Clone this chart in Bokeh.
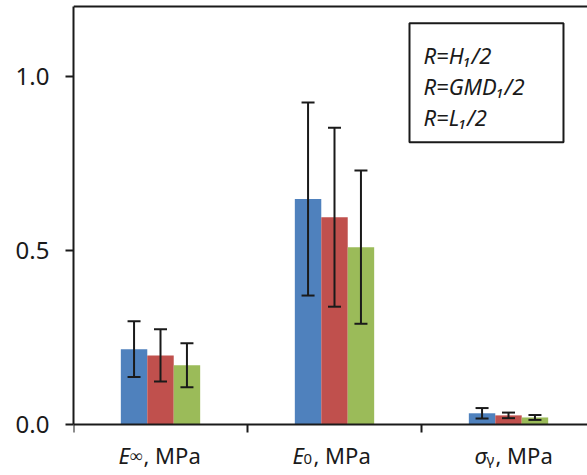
from bokeh.plotting import figure
from bokeh.models import (ColumnDataSource, Whisker, TeeHead, FixedTicker, Label,
                          BoxAnnotation, Range1d, NumeralTickFormatter, Span)
from bokeh.embed import file_html
from bokeh.resources import INLINE

# ---- data ----
categories = ["E_inf", "E_0", "sigma_y"]
series_names = ["R=H\u2081/2", "R=GMD\u2081/2", "R=L\u2081/2"]
colors = ["#4F81BD", "#C0504D", "#9BBB59"]

vals_H = [0.216, 0.647, 0.032]
vals_GMD = [0.198, 0.595, 0.026]
vals_L = [0.170, 0.509, 0.020]

err_H = [0.080, 0.277, 0.015]
err_GMD = [0.075, 0.257, 0.008]
err_L = [0.063, 0.220, 0.007]

y_ticks = [0.0, 0.5, 1.0]
y_max = 1.2

# label pieces: (main italic, subscript, rest)
cat_labels = [("E", "\u221e", ", MPa"), ("E", "0", ", MPa"), ("\u03c3", "\u03b3", ", MPa")]

FONT = "Noto Sans"
TXT = "#1a1a1a"

p = figure(width=587, height=475, output_backend="svg", toolbar_location=None,
           min_border_left=73, min_border_right=0, min_border_top=0, min_border_bottom=0,
           x_range=Range1d(0, 2.954), y_range=Range1d(-0.1466, 1.217))
p.grid.visible = False
p.background_fill_color = "white"
p.border_fill_color = "white"
p.outline_line_color = None

# top frame line
p.add_layout(Span(location=y_max, dimension="width", line_color=TXT, line_width=2))

bar_w = 0.152
series = [(vals_H, err_H), (vals_GMD, err_GMD), (vals_L, err_L)]
for i, ((vals, errs), col) in enumerate(zip(series, colors)):
    xs = [k + 0.5 + (i - 1) * bar_w for k in range(len(categories))]
    src = ColumnDataSource(dict(x=xs, top=vals,
                                upper=[v + e for v, e in zip(vals, errs)],
                                lower=[v - e for v, e in zip(vals, errs)]))
    p.vbar(x="x", top="top", width=bar_w, source=src, fill_color=col, line_color=None)
    w = Whisker(base="x", upper="upper", lower="lower", source=src, level="overlay",
                line_color=TXT, line_width=2,
                upper_head=TeeHead(size=13, line_color=TXT, line_width=2),
                lower_head=TeeHead(size=13, line_color=TXT, line_width=2))
    p.add_layout(w)

# y axis
p.yaxis.ticker = FixedTicker(ticks=y_ticks)
p.yaxis.bounds = (0, y_max)
p.yaxis.formatter = NumeralTickFormatter(format="0.0")
p.yaxis.minor_tick_line_color = None
p.yaxis.major_tick_in = 0
p.yaxis.major_tick_out = 8
p.yaxis.axis_line_width = 2
p.yaxis.major_tick_line_width = 2
p.yaxis.axis_line_color = TXT
p.yaxis.major_tick_line_color = TXT
p.yaxis.major_label_text_font = FONT
p.yaxis.major_label_text_font_size = "24px"
p.yaxis.major_label_text_color = TXT
p.yaxis.major_label_standoff = 16

# x axis at y=0: ticks at category boundaries, labels drawn separately
p.xaxis.fixed_location = 0
p.xaxis.ticker = FixedTicker(ticks=list(range(len(categories) + 1)))
p.xaxis.major_label_overrides = {k: "" for k in range(len(categories) + 1)}
p.xaxis.minor_tick_line_color = None
p.xaxis.major_tick_in = 0
p.xaxis.major_tick_out = 8
p.xaxis.axis_line_width = 2
p.xaxis.major_tick_line_width = 2
p.xaxis.axis_line_color = TXT
p.xaxis.major_tick_line_color = TXT
p.xaxis.major_label_text_font_size = "1px"

# category labels (italic symbol + subscript + plain text), offsets in px from centre
starts = [-42, -42, -34]
main_w = [11, 11, 12]
sub_w = [14, 10, 9]
sub_size = ["18px", "15px", "15px"]
sub_drop = [0, 4, 4]
base_off = -31
for k, (m, s, r) in enumerate(cat_labels):
    left = starts[k]
    common = dict(x=k + 0.5, y=0, text_font=FONT, text_color=TXT,
                  text_align="left", text_baseline="alphabetic")
    p.add_layout(Label(text=m, x_offset=left, y_offset=base_off, text_font_size="22px",
                       text_font_style="italic", **common))
    p.add_layout(Label(text=s, x_offset=left + main_w[k], y_offset=base_off - sub_drop[k],
                       text_font_size=sub_size[k], **common))
    p.add_layout(Label(text=r, x_offset=left + main_w[k] + sub_w[k], y_offset=base_off,
                       text_font_size="22px", **common))

# legend-like box with text only
p.add_layout(BoxAnnotation(left=1.931, right=2.816, top=1.152, bottom=0.810,
                           fill_alpha=0, line_color=TXT, line_width=2, line_alpha=1))
for j, name in enumerate(series_names):
    p.add_layout(Label(x=1.931, y=1.152, x_offset=14, y_offset=-32 - 31 * j,
                       text=name, text_font=FONT, text_font_size="22px",
                       text_font_style="italic", text_color=TXT,
                       text_align="left", text_baseline="alphabetic"))

open("out.html", "w").write(file_html(p, INLINE))
